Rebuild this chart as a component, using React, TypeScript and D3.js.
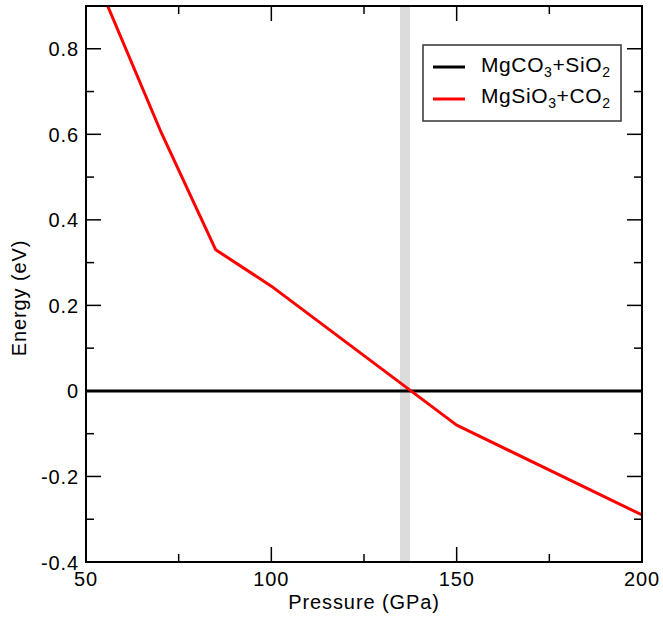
import React from "react";
import * as d3 from "d3";

const pressures = [50, 70, 85, 100, 150, 200];
const energyMgSiO3CO2 = [1.02, 0.61, 0.33, 0.245, -0.08, -0.29];
const refPressures = [50, 200];
const energyMgCO3SiO2 = [0, 0];
const transitionBand = [134.7, 137.4];
const xMajorTicks = [50, 100, 150, 200];
const xMinorTicks = [75, 125, 175];
const yMajorTicks = [-0.4, -0.2, 0, 0.2, 0.4, 0.6, 0.8];
const yMinorTicks = [-0.3, -0.1, 0.1, 0.3, 0.5, 0.7];

const W = 663, H = 619;
const L = 86, R = 642, T = 6, B = 562;
const FONT = "'Liberation Sans', Arial, Helvetica, sans-serif";

export default function App() {
  const x = d3.scaleLinear().domain([50, 200]).range([L, R]);
  const y = d3.scaleLinear().domain([-0.4, 0.9]).range([B, T]);
  const line = d3.line<[number, number]>().x(d => x(d[0])).y(d => y(d[1]));
  const red = line(pressures.map((p, i) => [p, energyMgSiO3CO2[i]] as [number, number])) || "";
  const black = line(refPressures.map((p, i) => [p, energyMgCO3SiO2[i]] as [number, number])) || "";
  const fmtY = (v: number) => (v === 0 ? "0" : v.toFixed(1));
  const major = 15, minor = 8;
  const ls = 0.9;
  return (
    <svg width={W} height={H} style={{ position: "absolute", left: 0, top: 0, background: "#fff" }} fontFamily={FONT}>
      <defs>
        <clipPath id="plotclip"><rect x={L} y={T} width={R - L} height={B - T} /></clipPath>
      </defs>
      <rect x={0} y={0} width={W} height={H} fill="#fff" />
      <rect x={x(transitionBand[0])} y={T} width={x(transitionBand[1]) - x(transitionBand[0])} height={B - T} fill="#dcdcdc" />
      <g clipPath="url(#plotclip)">
        <path d={black} stroke="#000" strokeWidth={3} fill="none" />
        <path d={red} stroke="#ff0000" strokeWidth={3} fill="none" strokeLinejoin="round" />
      </g>
      <g stroke="#000" strokeWidth={1.5}>
        {xMajorTicks.map(t => (
          <g key={"xm" + t}>
            <line x1={x(t)} x2={x(t)} y1={B} y2={B - major} />
            <line x1={x(t)} x2={x(t)} y1={T} y2={T + major} />
          </g>
        ))}
        {xMinorTicks.map(t => (
          <g key={"xn" + t}>
            <line x1={x(t)} x2={x(t)} y1={B} y2={B - minor} />
            <line x1={x(t)} x2={x(t)} y1={T} y2={T + minor} />
          </g>
        ))}
        {yMajorTicks.map(t => (
          <g key={"ym" + t}>
            <line x1={L} x2={L + major} y1={y(t)} y2={y(t)} />
            <line x1={R} x2={R - major} y1={y(t)} y2={y(t)} />
          </g>
        ))}
        {yMinorTicks.map(t => (
          <g key={"yn" + t}>
            <line x1={L} x2={L + minor} y1={y(t)} y2={y(t)} />
            <line x1={R} x2={R - minor} y1={y(t)} y2={y(t)} />
          </g>
        ))}
      </g>
      <rect x={L} y={T} width={R - L} height={B - T} fill="none" stroke="#000" strokeWidth={2} />
      {xMajorTicks.map(t => (
        <text key={"xl" + t} x={x(t)} y={586} textAnchor="middle" fontSize={20} letterSpacing={ls}>{t}</text>
      ))}
      {yMajorTicks.map(t => (
        <text key={"yl" + t} x={79} y={y(t) + 7.5} textAnchor="end" fontSize={20} letterSpacing={ls}>{fmtY(t)}</text>
      ))}
      <text x={(L + R) / 2} y={609} textAnchor="middle" fontSize={20} letterSpacing={ls}>Pressure (GPa)</text>
      <text transform={`translate(26, ${(T + B) / 2 + 14}) rotate(-90)`} textAnchor="middle" fontSize={20} letterSpacing={ls}>Energy (eV)</text>
      <rect x={423} y={45} width={198} height={76} fill="#fff" stroke="#333" strokeWidth={1.5} />
      <line x1={433} x2={465} y1={67} y2={67} stroke="#000" strokeWidth={3} />
      <line x1={433} x2={465} y1={99} y2={99} stroke="#ff0000" strokeWidth={3} />
      <text x={481} y={72} fontSize={21} letterSpacing={0.6}>
        MgCO<tspan fontSize={14} dy={5}>3</tspan><tspan dy={-5}>+SiO</tspan><tspan fontSize={14} dy={5}>2</tspan>
      </text>
      <text x={481} y={103} fontSize={21} letterSpacing={0.6}>
        MgSiO<tspan fontSize={14} dy={5}>3</tspan><tspan dy={-5}>+CO</tspan><tspan fontSize={14} dy={5}>2</tspan>
      </text>
    </svg>
  );
}
